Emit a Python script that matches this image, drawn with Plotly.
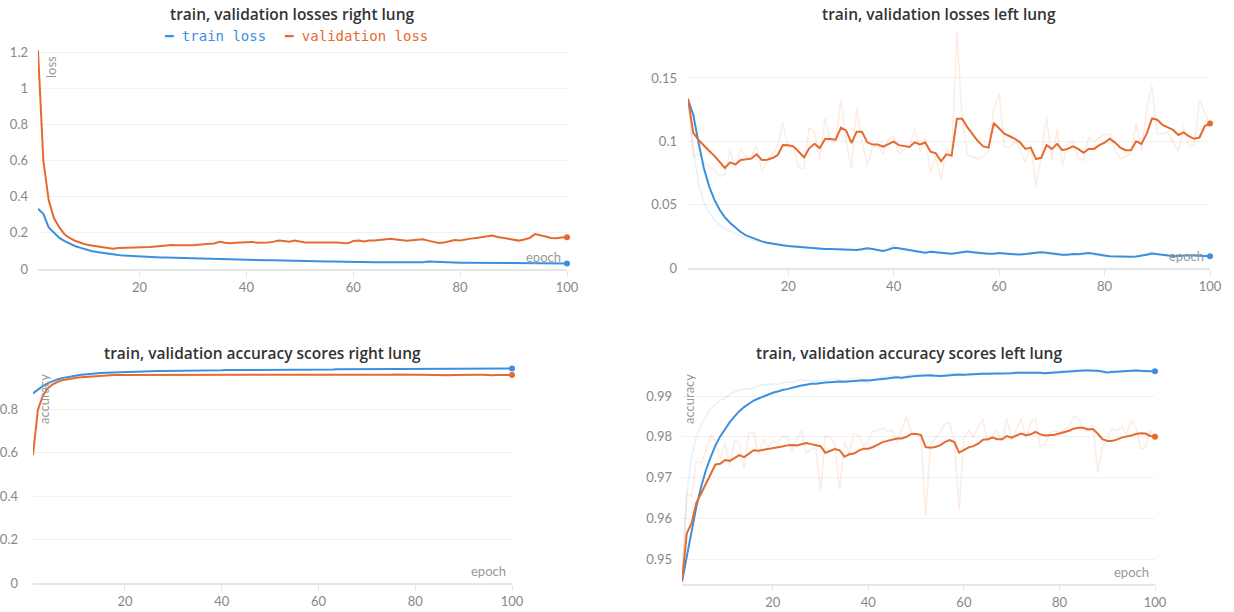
import plotly.graph_objects as go

W, H = 1234, 612

epochs = list(range(1, 101))

# ---------------- right lung loss ----------------
train_loss_right = [0.333,0.305,0.230,0.198,0.172,0.154,0.139,0.126,0.117,0.107,
0.100,0.094,0.089,0.084,0.080,0.077,0.074,0.072,0.070,0.068,
0.067,0.066,0.065,0.064,0.063,0.062,0.061,0.060,0.060,0.059,
0.058,0.057,0.056,0.055,0.055,0.054,0.053,0.052,0.051,0.050,
0.050,0.049,0.049,0.048,0.048,0.047,0.046,0.046,0.045,0.044,
0.044,0.044,0.043,0.043,0.042,0.042,0.041,0.041,0.040,0.039,
0.039,0.039,0.039,0.038,0.038,0.038,0.038,0.038,0.037,0.037,
0.037,0.037,0.038,0.042,0.040,0.039,0.038,0.036,0.035,0.034,
0.034,0.034,0.033,0.033,0.034,0.035,0.035,0.034,0.033,0.033,
0.033,0.032,0.032,0.032,0.033,0.032,0.032,0.031,0.031,0.031]

val_loss_right = [1.21,0.60,0.38,0.28,0.23,0.19,0.17,0.155,0.145,0.135,
0.130,0.125,0.120,0.118,0.112,0.116,0.117,0.118,0.116,0.116,
0.117,0.122,0.125,0.128,0.132,0.133,0.132,0.131,0.130,0.131,
0.134,0.138,0.140,0.141,0.150,0.145,0.142,0.145,0.147,0.152,
0.150,0.145,0.144,0.147,0.150,0.158,0.155,0.151,0.157,0.150,
0.147,0.146,0.147,0.145,0.147,0.150,0.147,0.144,0.142,0.155,
0.157,0.152,0.157,0.157,0.160,0.165,0.167,0.163,0.158,0.156,
0.159,0.160,0.164,0.157,0.150,0.144,0.147,0.155,0.160,0.158,
0.161,0.168,0.172,0.177,0.180,0.185,0.177,0.171,0.167,0.162,
0.157,0.163,0.171,0.193,0.188,0.180,0.172,0.170,0.174,0.175]

# ---------------- left lung loss ----------------
train_loss_left = [0.1330,0.1210,0.0990,0.0790,0.0645,0.0540,0.0460,0.0400,0.0355,0.0316,
0.0284,0.0258,0.0240,0.0224,0.0210,0.0200,0.0192,0.0184,0.0179,0.0174,
0.0170,0.0168,0.0165,0.0160,0.0155,0.0150,0.0150,0.0150,0.0148,0.0148,
0.0145,0.0143,0.0143,0.0148,0.0155,0.0150,0.0140,0.0135,0.0145,0.0160,
0.0155,0.0148,0.0140,0.0133,0.0128,0.0120,0.0128,0.0125,0.0118,0.0115,
0.0113,0.0118,0.0125,0.0130,0.0125,0.0120,0.0115,0.0112,0.0113,0.0118,
0.0115,0.0110,0.0108,0.0106,0.0110,0.0115,0.0122,0.0125,0.0120,0.0113,
0.0110,0.0105,0.0105,0.0110,0.0108,0.0113,0.0118,0.0112,0.0103,0.0098,
0.0092,0.0090,0.0088,0.0088,0.0088,0.0090,0.0095,0.0105,0.0115,0.0110,
0.0103,0.0098,0.0095,0.0095,0.0098,0.0100,0.0098,0.0095,0.0093,0.0092]

train_loss_left_raw = [0.1330,0.0950,0.0660,0.0520,0.0440,0.0380,0.0340,0.0310,0.0290,0.0270,
0.0250,0.0230,0.0220,0.0210,0.0210,0.0200,0.0190,0.0180,0.0175,0.0170,
0.0168,0.0166,0.0160,0.0155,0.0150,0.0148,0.0150,0.0150,0.0146,0.0148,
0.0142,0.0141,0.0144,0.0155,0.0160,0.0145,0.0135,0.0130,0.0155,0.0185,
0.0150,0.0142,0.0133,0.0128,0.0122,0.0112,0.0135,0.0120,0.0112,0.0110,
0.0110,0.0125,0.0135,0.0135,0.0120,0.0115,0.0110,0.0110,0.0115,0.0125,
0.0110,0.0105,0.0105,0.0104,0.0115,0.0120,0.0130,0.0128,0.0115,0.0105,
0.0105,0.0100,0.0105,0.0115,0.0105,0.0120,0.0122,0.0105,0.0095,0.0092,
0.0088,0.0088,0.0086,0.0088,0.0088,0.0093,0.0100,0.0115,0.0128,0.0105,
0.0097,0.0093,0.0093,0.0095,0.0102,0.0103,0.0095,0.0093,0.0095,0.0092]

val_loss_left = [0.1337,0.1066,0.1010,0.0965,0.0925,0.0885,0.0840,0.0790,0.0834,0.0818,
0.0852,0.0858,0.0863,0.0897,0.0853,0.0855,0.0868,0.0890,0.0970,0.0968,
0.0960,0.0918,0.0874,0.0945,0.0980,0.0947,0.1018,0.1018,0.1013,0.1108,
0.1084,0.0987,0.1076,0.1076,0.0992,0.0974,0.0974,0.0958,0.0979,0.0997,
0.0970,0.0960,0.0955,0.0992,0.0976,0.0990,0.0918,0.0905,0.0842,0.0897,
0.0887,0.1179,0.1179,0.1110,0.1050,0.1000,0.0960,0.0950,0.1145,0.1100,
0.1060,0.1040,0.1020,0.0990,0.0940,0.0950,0.0860,0.0870,0.0970,0.0940,
0.0980,0.0930,0.0940,0.0960,0.0940,0.0910,0.0940,0.0940,0.0970,0.0990,
0.1020,0.0990,0.0950,0.0930,0.0930,0.1000,0.0980,0.1060,0.1180,0.1170,
0.1130,0.1110,0.1090,0.1050,0.1070,0.1040,0.1020,0.1030,0.1120,0.1140]

val_loss_left_raw = [0.133,0.088,0.090,0.083,0.080,0.077,0.072,0.074,0.093,0.078,
0.094,0.088,0.087,0.097,0.076,0.085,0.090,0.097,0.115,0.095,
0.095,0.079,0.079,0.111,0.107,0.086,0.118,0.100,0.100,0.133,
0.100,0.078,0.127,0.100,0.081,0.095,0.097,0.090,0.102,0.104,
0.090,0.094,0.095,0.110,0.092,0.103,0.075,0.088,0.070,0.095,
0.086,0.187,0.118,0.089,0.088,0.086,0.088,0.092,0.125,0.138,
0.096,0.095,0.100,0.094,0.083,0.097,0.065,0.088,0.120,0.085,
0.109,0.081,0.098,0.100,0.087,0.085,0.103,0.100,0.103,0.105,
0.106,0.093,0.086,0.088,0.090,0.115,0.092,0.126,0.144,0.106,
0.106,0.107,0.100,0.092,0.112,0.096,0.097,0.133,0.122,0.114]

# ---------------- right lung accuracy ----------------
train_acc_right = [0.872,0.890,0.905,0.918,0.928,0.936,0.942,0.947,0.951,0.954,
0.957,0.960,0.962,0.964,0.966,0.967,0.968,0.969,0.970,0.971,
0.972,0.972,0.973,0.973,0.974,0.974,0.975,0.975,0.975,0.976,
0.976,0.976,0.977,0.977,0.977,0.977,0.978,0.978,0.978,0.978,
0.979,0.979,0.979,0.979,0.979,0.980,0.980,0.980,0.980,0.980,
0.981,0.981,0.981,0.981,0.981,0.981,0.982,0.982,0.982,0.982,
0.982,0.982,0.982,0.983,0.983,0.983,0.983,0.983,0.983,0.983,
0.983,0.984,0.984,0.984,0.984,0.984,0.984,0.984,0.984,0.984,
0.984,0.985,0.985,0.985,0.985,0.985,0.985,0.985,0.985,0.985,
0.985,0.985,0.986,0.986,0.986,0.986,0.986,0.986,0.986,0.986]

val_acc_right = [0.589,0.795,0.860,0.895,0.912,0.924,0.932,0.937,0.941,0.944,
0.946,0.948,0.950,0.952,0.953,0.954,0.955,0.956,0.956,0.957,
0.957,0.957,0.958,0.958,0.957,0.958,0.958,0.957,0.958,0.957,
0.958,0.958,0.957,0.957,0.956,0.957,0.958,0.957,0.957,0.957,
0.956,0.957,0.957,0.958,0.957,0.956,0.955,0.956,0.957,0.957,
0.957,0.958,0.957,0.957,0.957,0.958,0.958,0.957,0.957,0.958,
0.958,0.957,0.957,0.957,0.956,0.956,0.957,0.957,0.958,0.958,
0.957,0.957,0.957,0.958,0.958,0.959,0.958,0.958,0.957,0.957,
0.958,0.957,0.957,0.956,0.955,0.953,0.955,0.956,0.957,0.957,
0.957,0.958,0.958,0.958,0.955,0.955,0.956,0.956,0.956,0.956]

# ---------------- left lung accuracy ----------------
train_acc_left = [0.9445,0.9506,0.9571,0.9628,0.9677,0.9718,0.9750,0.9779,0.9801,0.9820,
0.9836,0.9850,0.9863,0.9873,0.9881,0.9889,0.9894,0.9899,0.9904,0.9908,
0.9911,0.9915,0.9917,0.9920,0.9924,0.9926,0.9928,0.9930,0.9930,0.9932,
0.9933,0.9934,0.9935,0.9936,0.9935,0.9936,0.9937,0.9938,0.9939,0.9938,
0.9939,0.9940,0.9942,0.9943,0.9945,0.9946,0.9945,0.9947,0.9948,0.9949,
0.9950,0.9951,0.9951,0.9950,0.9949,0.9950,0.9951,0.9952,0.9953,0.9952,
0.9953,0.9953,0.9954,0.9955,0.9955,0.9955,0.9956,0.9955,0.9956,0.9956,
0.9957,0.9957,0.9958,0.9957,0.9958,0.9957,0.9956,0.9957,0.9958,0.9959,
0.9960,0.9961,0.9962,0.9963,0.9963,0.9963,0.9963,0.9962,0.9960,0.9958,
0.9959,0.9960,0.9960,0.9961,0.9962,0.9963,0.9962,0.9961,0.9961,0.9961]

train_acc_left_raw = [0.9445,0.9660,0.9750,0.9800,0.9830,0.9850,0.9870,0.9880,0.9890,0.9895,
0.9905,0.9910,0.9915,0.9918,0.9917,0.9922,0.9925,0.9928,0.9927,0.9930,
0.9929,0.9932,0.9935,0.9934,0.9937,0.9940,0.9938,0.9937,0.9936,0.9940,
0.9938,0.9941,0.9942,0.9940,0.9938,0.9942,0.9943,0.9945,0.9938,0.9930,
0.9942,0.9944,0.9947,0.9946,0.9950,0.9948,0.9940,0.9952,0.9953,0.9952,
0.9954,0.9953,0.9948,0.9946,0.9950,0.9953,0.9955,0.9956,0.9952,0.9950,
0.9955,0.9954,0.9957,0.9956,0.9955,0.9957,0.9958,0.9953,0.9958,0.9957,
0.9959,0.9958,0.9959,0.9955,0.9960,0.9954,0.9955,0.9960,0.9961,0.9962,
0.9962,0.9963,0.9964,0.9964,0.9963,0.9964,0.9963,0.9958,0.9954,0.9957,
0.9962,0.9961,0.9961,0.9962,0.9964,0.9965,0.9960,0.9958,0.9962,0.9961]

val_acc_left = [0.9445,0.9563,0.9588,0.9638,0.9661,0.9686,0.9710,0.9732,0.9734,0.9743,
0.9741,0.9749,0.9755,0.9750,0.9759,0.9767,0.9766,0.9768,0.9769,0.9771,
0.9774,0.9776,0.9779,0.9780,0.9779,0.9782,0.9785,0.9782,0.9780,0.9777,
0.9761,0.9766,0.9770,0.9767,0.9751,0.9757,0.9759,0.9766,0.9771,0.9771,
0.9775,0.9781,0.9787,0.9790,0.9793,0.9796,0.9796,0.9800,0.9807,0.9807,
0.9805,0.9775,0.9773,0.9775,0.9779,0.9787,0.9792,0.9787,0.9761,0.9767,
0.9774,0.9777,0.9783,0.9793,0.9794,0.9798,0.9794,0.9794,0.9802,0.9798,
0.9804,0.9808,0.9804,0.9806,0.9812,0.9806,0.9803,0.9804,0.9805,0.9808,
0.9811,0.9815,0.9820,0.9822,0.9822,0.9818,0.9819,0.9808,0.9794,0.9790,
0.9790,0.9793,0.9798,0.9800,0.9803,0.9807,0.9809,0.9808,0.9802,0.9800]

val_acc_left_raw = [0.9445,0.9660,0.9655,0.9740,0.9735,0.9765,0.9805,0.9790,0.9745,0.9785,
0.9730,0.9790,0.9785,0.9720,0.9810,0.9812,0.9755,0.9795,0.9775,0.9790,
0.9785,0.9800,0.9800,0.9765,0.9795,0.9815,0.9760,0.9770,0.9775,0.9665,
0.9802,0.9798,0.9782,0.9670,0.9790,0.9760,0.9808,0.9805,0.9775,0.9790,
0.9815,0.9815,0.9822,0.9812,0.9818,0.9785,0.9818,0.9850,0.9810,0.9808,
0.9802,0.9605,0.9780,0.9795,0.9812,0.9832,0.9835,0.9790,0.9620,0.9795,
0.9815,0.9800,0.9825,0.9842,0.9785,0.9805,0.9815,0.9788,0.9845,0.9792,
0.9818,0.9845,0.9795,0.9835,0.9845,0.9775,0.9782,0.9810,0.9815,0.9812,
0.9818,0.9825,0.9850,0.9845,0.9815,0.9815,0.9832,0.9712,0.9775,0.9795,
0.9820,0.9815,0.9825,0.9805,0.9840,0.9825,0.9770,0.9775,0.9815,0.9800]

titles = ["train, validation losses right lung", "train, validation losses left lung",
          "train, validation accuracy scores right lung", "train, validation accuracy scores left lung"]
legend_names = ["train loss", "validation loss"]

BLUE = "#3c8fdd"
ORANGE = "#e56a2f"
BLUE_F = "rgba(60,143,221,0.13)"
ORANGE_F = "rgba(229,106,47,0.13)"
FONT = "Lato"
TITLE_FONT = "Open Sans"

# panel pixel geometry: x_left(epoch1), x_right(epoch100), y_bottom, y_top, y range, dtick
panels = [
    dict(xl=38, xr=567, yb=269, yt=48.4, yr=[0, 1.22], dt=0.2, so=9),
    dict(xl=688, xr=1210, yb=268, yt=27.3, yr=[0, 0.19], dt=0.05, so=10),
    dict(xl=33, xr=512, yb=583, yt=366.6, yr=[0, 0.995], dt=0.2, so=14),
    dict(xl=682, xr=1155, yb=583.5, yt=365.5, yr=[0.944, 0.9975], dt=0.01, so=9),
]

series = [
    (train_loss_right, None, val_loss_right, None),
    (train_loss_left, train_loss_left_raw, val_loss_left, val_loss_left_raw),
    (train_acc_right, None, val_acc_right, None),
    (train_acc_left, train_acc_left_raw, val_acc_left, val_acc_left_raw),
]

fig = go.Figure()
layout = dict(width=W, height=H, autosize=False, margin=dict(l=0, r=0, t=0, b=0),
              paper_bgcolor="white", plot_bgcolor="white", showlegend=False,
              font=dict(family=FONT, color="#888"))
annotations = []

for i, (p, (tr, trr, va, var)) in enumerate(zip(panels, series)):
    k = "" if i == 0 else str(i + 1)
    xa, ya = "x" + k, "y" + k
    for raw, col in ((trr, BLUE_F), (var, ORANGE_F)):
        if raw is not None:
            fig.add_trace(go.Scatter(x=epochs, y=raw, mode="lines", xaxis=xa, yaxis=ya,
                                     line=dict(color=col, width=1.5), hoverinfo="skip"))
    fig.add_trace(go.Scatter(x=epochs, y=tr, mode="lines", xaxis=xa, yaxis=ya,
                             line=dict(color=BLUE, width=2), name="train"))
    fig.add_trace(go.Scatter(x=epochs, y=va, mode="lines", xaxis=xa, yaxis=ya,
                             line=dict(color=ORANGE, width=2), name="validation"))
    fig.add_trace(go.Scatter(x=[epochs[-1], epochs[-1]], y=[tr[-1], va[-1]], mode="markers",
                             xaxis=xa, yaxis=ya, cliponaxis=False,
                             marker=dict(color=[BLUE, ORANGE], size=6)))
    layout["xaxis" + k] = dict(domain=[p["xl"] / W, p["xr"] / W], range=[1, 100], anchor=ya,
                               tickmode="array", tickvals=[20, 40, 60, 80, 100],
                               showgrid=False, zeroline=False, showline=True, linecolor="#e6e6e6",
                               linewidth=1.5, ticks="outside", ticklen=6, tickcolor="#e6e6e6",
                               tickfont=dict(size=13, color="#888", family=FONT), automargin=False)
    layout["yaxis" + k] = dict(domain=[1 - p["yb"] / H, 1 - p["yt"] / H], range=p["yr"], anchor=xa,
                               dtick=p["dt"], tick0=0, showgrid=True, gridcolor="#f1f1f1",
                               zeroline=False, showline=False, ticks="", ticklabelstandoff=p["so"],
                               tickfont=dict(size=13, color="#888", family=FONT), automargin=False)
    cx = (p["xl"] + p["xr"]) / 2
    title_y = 14 if i < 2 else 353
    annotations.append(dict(text=titles[i], xref="paper", yref="paper",
                            x=(cx - 10) / W, y=1 - title_y / H, xanchor="center", yanchor="middle",
                            showarrow=False,
                            font=dict(size=15.5, color="#333", family=TITLE_FONT, weight=600)))
    annotations.append(dict(text="epoch", xref="paper", yref="paper", x=(p["xr"] - 4) / W,
                            y=1 - (p["yb"] - 2) / H, xanchor="right", yanchor="bottom",
                            showarrow=False, font=dict(size=13, color="#999", family=FONT)))

annotations.append(dict(text="loss", xref="paper", yref="paper", x=51 / W, y=1 - 54 / H,
                        xanchor="center", yanchor="top", textangle=-90, showarrow=False,
                        font=dict(size=13, color="#999", family=FONT)))
annotations.append(dict(text="accuracy", xref="paper", yref="paper", x=44 / W, y=1 - 372 / H,
                        xanchor="center", yanchor="top", textangle=-90, showarrow=False,
                        font=dict(size=13, color="#999", family=FONT)))
annotations.append(dict(text="accuracy", xref="paper", yref="paper", x=689 / W, y=1 - 372 / H,
                        xanchor="center", yanchor="top", textangle=-90, showarrow=False,
                        font=dict(size=13, color="#999", family=FONT)))

# legend of the top-left panel (dash + label, in the series colour)
for name, col, lx in ((legend_names[0], BLUE, 162), (legend_names[1], ORANGE, 282)):
    annotations.append(dict(text="<b>━</b> " + name, xref="paper", yref="paper",
                            x=lx / W, y=1 - 36 / H, xanchor="left", yanchor="middle",
                            showarrow=False, font=dict(size=14, color=col, family="DejaVu Sans Mono")))

layout["annotations"] = annotations
fig.update_layout(**layout)
fig.write_html("out.html", config={"displayModeBar": False},
               post_script="document.body.style.margin='0';")
